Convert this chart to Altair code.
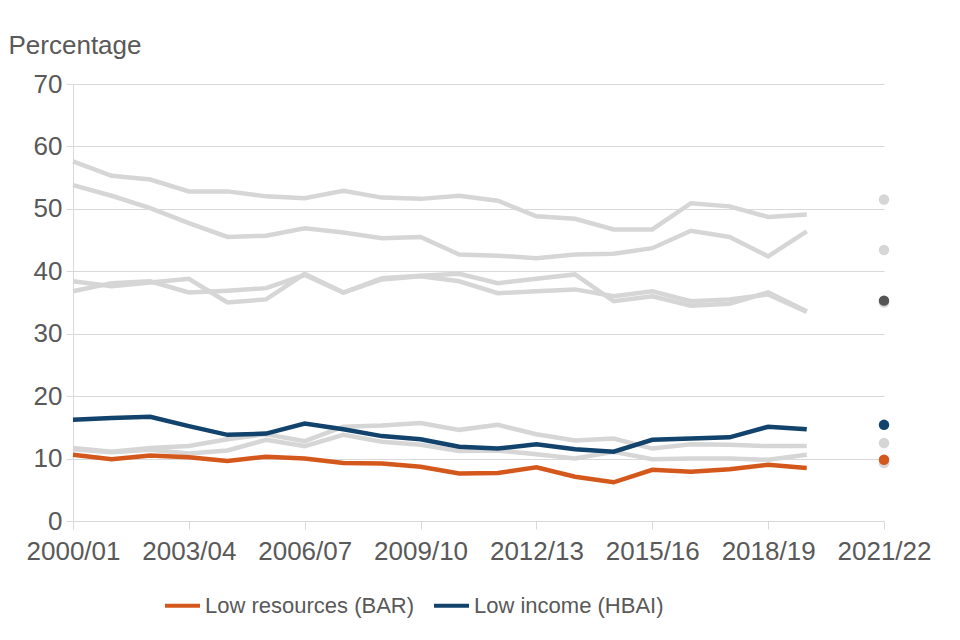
import altair as alt
import pandas as pd

years = ["2000/01", "2001/02", "2002/03", "2003/04", "2004/05", "2005/06", "2006/07",
         "2007/08", "2008/09", "2009/10", "2010/11", "2011/12", "2012/13", "2013/14",
         "2014/15", "2015/16", "2016/17", "2017/18", "2018/19", "2019/20", "2020/21", "2021/22"]
tick_years = ["2000/01", "2003/04", "2006/07", "2009/10", "2012/13", "2015/16", "2018/19", "2021/22"]

# Series values 2000/01 - 2019/20
grey_a = [57.6, 55.3, 54.7, 52.8, 52.8, 52.0, 51.7, 52.9, 51.8, 51.6, 52.1, 51.3, 48.8, 48.4, 46.7, 46.7, 50.9, 50.4, 48.7, 49.1]
grey_b = [53.8, 52.1, 50.1, 47.7, 45.5, 45.7, 46.9, 46.2, 45.3, 45.5, 42.7, 42.5, 42.1, 42.7, 42.8, 43.7, 46.5, 45.5, 42.4, 46.4]
grey_c = [38.4, 37.6, 38.2, 38.8, 35.0, 35.5, 39.6, 36.6, 38.9, 39.3, 39.6, 38.1, 38.8, 39.5, 35.2, 36.0, 34.5, 34.8, 36.6, 33.6]
grey_d = [36.8, 38.1, 38.4, 36.6, 36.9, 37.3, 39.4, 36.6, 38.7, 39.2, 38.4, 36.5, 36.8, 37.1, 36.0, 36.8, 35.2, 35.5, 36.3, 33.5]
grey_e = [11.7, 11.1, 11.7, 12.0, 13.1, 13.9, 12.8, 15.1, 15.3, 15.7, 14.6, 15.4, 13.9, 12.9, 13.2, 11.6, 12.3, 12.2, 12.0, 12.0]
grey_f = [11.5, 11.0, 11.4, 10.8, 11.3, 13.0, 12.0, 13.8, 12.7, 12.2, 11.2, 11.3, 10.7, 10.0, 11.1, 9.9, 10.0, 10.0, 9.8, 10.6]
bar = [10.6, 9.9, 10.5, 10.2, 9.6, 10.3, 10.0, 9.3, 9.2, 8.7, 7.6, 7.7, 8.6, 7.1, 6.2, 8.2, 7.9, 8.3, 9.0, 8.5]
hbai = [16.2, 16.5, 16.7, 15.2, 13.8, 14.0, 15.6, 14.7, 13.6, 13.1, 11.9, 11.6, 12.3, 11.5, 11.1, 13.0, 13.2, 13.4, 15.1, 14.7]

# 2021/22 single values
grey_2122 = [51.5, 43.4, 35.0, 12.5, 9.3]
dark_2122 = [35.3]
bar_2122 = 9.8
hbai_2122 = 15.4

names = ["Low resources (BAR)", "Low income (HBAI)"]
ORANGE = "#D4581C"
BLUE = "#12436D"
GREY = "#D6D6D6"
TEXT = "#595959"

line_years = years[:20]
grey_rows = []
for sid, vals in zip("abcdef", [grey_a, grey_b, grey_c, grey_d, grey_e, grey_f]):
    for y, v in zip(line_years, vals):
        grey_rows.append({"year": y, "value": v, "series": sid})
grey_df = pd.DataFrame(grey_rows)

col_rows = []
for name, vals in zip(names, [bar, hbai]):
    for y, v in zip(line_years, vals):
        col_rows.append({"year": y, "value": v, "series": name})
col_df = pd.DataFrame(col_rows)

grey_dots = pd.DataFrame({"year": ["2021/22"] * len(grey_2122), "value": grey_2122})
dark_dots = pd.DataFrame({"year": ["2021/22"] * len(dark_2122), "value": dark_2122})
col_dots = pd.DataFrame({"year": ["2021/22", "2021/22"], "value": [bar_2122, hbai_2122],
                         "hex": [ORANGE, BLUE]})

x_enc = alt.X("year:O", scale=alt.Scale(type="point", domain=years, padding=0),
              axis=alt.Axis(values=tick_years, title=None, labelAngle=0, labelFontSize=26,
                            labelColor=TEXT, labelPadding=9, tickSize=8, tickColor="#D9D9D9",
                            domainColor="#D9D9D9", grid=False))
y_enc = alt.Y("value:Q", scale=alt.Scale(domain=[0, 70], nice=False),
              axis=alt.Axis(values=list(range(0, 71, 10)), title="Percentage", titleAngle=0,
                            titleAlign="left", titleBaseline="alphabetic", titleX=-65, titleY=-31,
                            titleFontSize=26, titleFontWeight="normal", titleColor=TEXT,
                            labelFontSize=26, labelColor=TEXT, labelPadding=4, tickSize=7,
                            tickColor="#D9D9D9", domainColor="#D9D9D9", gridColor="#D9D9D9"))

grey_lines = alt.Chart(grey_df).mark_line(color=GREY, strokeWidth=4.5).encode(
    x=x_enc, y=y_enc, detail="series:N")
grey_pts = alt.Chart(grey_dots).mark_circle(color=GREY, size=110, opacity=1).encode(
    x=x_enc, y=y_enc)
dark_pts = alt.Chart(dark_dots).mark_circle(color="#555555", size=110, opacity=1).encode(
    x=x_enc, y=y_enc)
col_lines = alt.Chart(col_df).mark_line(strokeWidth=4.5).encode(
    x=x_enc, y=y_enc,
    color=alt.Color("series:N", scale=alt.Scale(domain=names, range=[ORANGE, BLUE]),
                    legend=alt.Legend(title=None, orient="none", direction="horizontal",
                                      legendX=90, legendY=502, symbolType="stroke",
                                      symbolSize=1225, symbolStrokeWidth=4, labelFontSize=22,
                                      labelColor=TEXT, labelOffset=3, columnPadding=11,
                                      labelLimit=0, padding=0)))
col_pts = alt.Chart(col_dots).mark_circle(size=110, opacity=1).encode(
    x=x_enc, y=y_enc, color=alt.Color("hex:N", scale=None))

chart = alt.layer(grey_lines, grey_pts, dark_pts, col_lines, col_pts).properties(
    width=811, height=437,
    padding={"left": 65, "top": 76, "right": 50, "bottom": 100},
    autosize=alt.AutoSizeParams(type="none"),
).configure(font="Liberation Sans").configure_view(stroke=None)

chart.save("out.html", embed_options={"renderer": "svg", "actions": False})
